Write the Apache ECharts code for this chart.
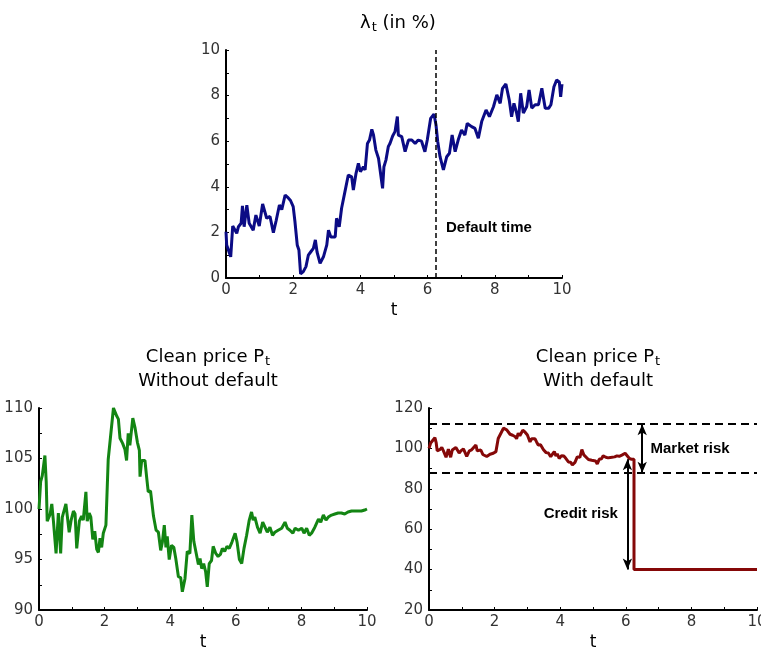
<!DOCTYPE html>
<html>
<head>
<meta charset="utf-8">
<title>Default intensity and clean price</title>
<script src="https://cdn.jsdelivr.net/npm/echarts@6/dist/echarts.min.js"></script>
<style>
  html, body { margin: 0; padding: 0; background: #fff; }
  #chart { width: 761px; height: 652px; }
</style>
</head>
<body>
<div id="chart"></div>
<script>
// Default intensity lambda_t (in %) as [t, value]
const lambdaPath = [
  [0,2.03],[0.02,1.45],[0.14,0.93],[0.2,2.28],[0.32,1.96],[0.37,2.25],[0.45,2.4],[0.49,3.16],
  [0.54,2.25],[0.62,3.19],[0.69,2.4],[0.81,2.1],[0.89,2.76],[0.99,2.28],[1.09,3.25],[1.21,2.62],
  [1.31,2.7],[1.41,1.99],[1.49,2.5],[1.59,3.2],[1.66,3.0],[1.76,3.64],[1.86,3.5],[1.92,3.4],
  [2.0,3.13],[2.05,2.5],[2.12,1.45],[2.17,1.23],[2.22,0.18],[2.3,0.28],[2.38,0.5],[2.45,1.0],
  [2.52,1.14],[2.6,1.3],[2.66,1.67],[2.71,1.14],[2.8,0.64],[2.9,0.93],[3.0,1.45],[3.05,2.1],
  [3.12,1.8],[3.25,1.8],[3.29,2.62],[3.37,2.25],[3.44,3.06],[3.54,3.79],[3.64,4.52],[3.74,4.44],
  [3.79,3.86],[3.87,4.59],[3.94,5.03],[4.0,4.66],[4.09,4.88],[4.14,4.74],[4.21,5.9],[4.27,6.05],
  [4.34,6.52],[4.39,6.27],[4.46,5.61],[4.54,5.24],[4.58,5.31],[4.66,3.93],[4.7,4.88],[4.76,5.17],
  [4.83,5.76],[4.88,5.9],[4.96,6.23],[5.03,6.42],[5.1,7.08],[5.13,6.27],[5.23,6.2],[5.33,5.54],
  [5.43,6.05],[5.53,6.05],[5.63,5.9],[5.72,6.05],[5.82,6.0],[5.92,5.54],[5.99,6.05],[6.09,7.0],
  [6.19,7.19],[6.25,6.71],[6.3,6.0],[6.37,5.32],[6.47,4.74],[6.57,5.32],[6.65,5.47],[6.73,6.27],
  [6.82,5.54],[6.91,6.05],[7.01,6.49],[7.11,6.27],[7.18,6.78],[7.31,6.64],[7.41,6.56],[7.51,6.13],
  [7.61,6.86],[7.74,7.37],[7.84,7.08],[7.96,7.51],[8.06,8.03],[8.16,7.66],[8.23,8.32],[8.33,8.51],
  [8.43,7.8],[8.5,7.07],[8.57,7.66],[8.65,7.23],[8.7,6.86],[8.77,8.1],[8.85,7.23],[8.95,7.52],
  [9.02,8.25],[9.1,7.45],[9.2,7.6],[9.3,7.6],[9.4,8.32],[9.5,7.44],[9.6,7.44],[9.67,7.6],
  [9.76,8.39],[9.84,8.68],[9.92,8.6],[9.96,7.95],[10,8.5]
];

// Clean price P_t without default, as [t, price]
const pricePath = [
  [0,100],[0.05,102.7],[0.1,103.3],[0.18,105.3],[0.22,102.7],[0.25,98.8],[0.34,99.5],[0.39,100.5],
  [0.44,98.8],[0.46,98.7],[0.52,95.6],[0.59,99.6],[0.66,95.6],[0.71,99.2],[0.77,99.2],[0.82,100.5],
  [0.87,100.4],[0.92,97.7],[0.98,98.9],[1.05,99.8],[1.1,99.5],[1.15,96.1],[1.23,98.8],[1.3,99.3],
  [1.35,98.9],[1.43,101.7],[1.47,98.8],[1.53,99.6],[1.58,99.2],[1.64,97.0],[1.7,97.8],[1.76,96.0],
  [1.81,95.7],[1.86,97.1],[1.91,96.2],[1.96,97.6],[2.04,98.4],[2.11,104.9],[2.16,105.0],[2.27,110],
  [2.32,110],[2.37,109.2],[2.42,108.9],[2.47,107],[2.55,106.5],[2.62,105.9],[2.67,104.8],[2.72,107.5],
  [2.77,106.3],[2.86,109],[2.93,108],[3.0,106.6],[3.06,105.8],[3.08,103.2],[3.13,104.8],[3.23,104.8],
  [3.28,103.2],[3.33,101.7],[3.4,101.8],[3.49,99.3],[3.57,97.9],[3.64,97.7],[3.71,95.9],[3.76,96.7],
  [3.82,98.4],[3.87,96.2],[3.91,97.3],[3.97,95.0],[4.04,96.4],[4.11,96.2],[4.17,95.1],[4.25,93.3],
  [4.32,93.2],[4.37,91.8],[4.45,93.1],[4.52,95.8],[4.6,95.6],[4.66,99.4],[4.72,96.8],[4.78,96.7],
  [4.86,94.5],[4.91,95.1],[4.96,94.1],[5.02,94.6],[5.08,93.8],[5.13,92.3],[5.19,94.6],[5.26,94.9],
  [5.31,96.3],[5.39,95.6],[5.46,95.3],[5.53,95.5],[5.59,96.1],[5.66,95.8],[5.73,96.3],[5.8,96.1],
  [5.88,96.7],[5.98,97.6],[6.04,96.7],[6.11,95.0],[6.18,94.6],[6.25,96.1],[6.33,97.4],[6.41,98.9],
  [6.48,99.7],[6.53,98.9],[6.58,99.2],[6.66,98.2],[6.74,97.6],[6.82,98.7],[6.89,98.2],[6.96,97.7],
  [7.04,98.2],[7.12,97.4],[7.19,97.7],[7.29,97.9],[7.4,98.1],[7.5,98.7],[7.57,98.1],[7.65,97.9],
  [7.74,97.6],[7.81,98.1],[7.91,97.9],[8.01,98.1],[8.08,97.6],[8.16,98.1],[8.24,97.4],[8.31,97.6],
  [8.41,98.2],[8.52,99.0],[8.59,98.7],[8.67,99.4],[8.75,98.9],[8.82,99.2],[8.92,99.4],[9.02,99.5],
  [9.12,99.6],[9.22,99.6],[9.32,99.5],[9.42,99.7],[9.53,99.8],[9.63,99.8],[9.73,99.8],[9.83,99.8],
  [9.93,99.9],[10,100]
];

// Default event and risk bands
const defaultTime = 6.25;
const recoveryPrice = 40;
const marketBand = [112, 88];
const marketArrowT = 6.5;
const creditArrowT = 6.05;
const horizon = 10;

// Price path with default: follows the clean price until default, then jumps to recovery
const beforeDefault = pricePath.filter(p => p[0] < defaultTime);
const preDefaultPrice = beforeDefault[beforeDefault.length - 1][1];
const defaultPath = beforeDefault.concat([
  [defaultTime, preDefaultPrice],
  [defaultTime, recoveryPrice],
  [horizon, recoveryPrice]
]);

const FONT = 'DejaVu Sans';
const NOTE_FONT = 'Liberation Sans';
const labelStyle = { color: '#333', fontSize: 15, fontFamily: FONT };
const noteStyle = { color: '#000', fontSize: 15, fontWeight: 'bold', fontFamily: NOTE_FONT };

function xAxisFor(gridIndex) {
  return {
    gridIndex, type: 'value', min: 0, max: 10, interval: 2,
    name: 't', nameLocation: 'middle', nameGap: 24,
    nameTextStyle: { color: '#000', fontSize: 17, fontFamily: FONT },
    axisLine: { lineStyle: { color: '#000', width: 2 } },
    axisTick: { inside: true, length: 3, lineStyle: { color: '#000', width: 1 } },
    minorTick: { show: true, splitNumber: 2, length: 3, lineStyle: { color: '#000', width: 1 } },
    axisLabel: Object.assign({ margin: 5 }, labelStyle),
    splitLine: { show: false }
  };
}
function yAxisFor(gridIndex, min, max, interval) {
  return {
    gridIndex, type: 'value', min, max, interval,
    axisLine: { show: true, lineStyle: { color: '#000', width: 2 } },
    axisTick: { show: true, inside: true, length: 3, lineStyle: { color: '#000', width: 1 } },
    minorTick: { show: true, splitNumber: 2, length: 3, lineStyle: { color: '#000', width: 1 } },
    axisLabel: Object.assign({ margin: 6 }, labelStyle),
    splitLine: { show: false }
  };
}

const titleRich = {
  a: { fontSize: 18, fontFamily: FONT, fontWeight: 'normal', color: '#000', lineHeight: 24 },
  s: { fontSize: 13, fontFamily: FONT, fontWeight: 'normal', color: '#000', lineHeight: 24, padding: [9, 0, 0, 1] }
};
const titleStyle = { fontWeight: 'normal', rich: titleRich };

const chart = echarts.init(document.getElementById('chart'), null, { renderer: 'canvas' });
chart.setOption({
  animation: false,
  backgroundColor: '#fff',
  title: [
    { text: '{a|λ}{s|t}{a| (in %)}', left: 393, top: 6, textAlign: 'center', textStyle: titleStyle },
    { text: '{a|Clean price P}{s|t}\n{a|Without default}', left: 203, top: 340, textAlign: 'center',
      textStyle: titleStyle },
    { text: '{a|Clean price P}{s|t}\n{a|With default}', left: 593, top: 340, textAlign: 'center',
      textStyle: titleStyle }
  ],
  grid: [
    { left: 226, top: 50, width: 336, height: 228, outerBoundsMode: 'none' },
    { left: 39, top: 408, width: 328, height: 202, outerBoundsMode: 'none' },
    { left: 429, top: 408, width: 328, height: 202, outerBoundsMode: 'none' }
  ],
  xAxis: [xAxisFor(0), xAxisFor(1), xAxisFor(2)],
  yAxis: [yAxisFor(0, 0, 10, 2), yAxisFor(1, 90, 110, 5), yAxisFor(2, 20, 120, 20)],
  series: [
    {
      type: 'line', xAxisIndex: 0, yAxisIndex: 0, data: lambdaPath,
      showSymbol: false, lineStyle: { color: '#0b0b85', width: 3 },
      markLine: {
        silent: true, symbol: 'none', label: { show: false },
        lineStyle: { color: '#000', type: [5, 3], width: 1.5 },
        data: [{ xAxis: defaultTime }]
      },
      markPoint: {
        silent: true,
        data: [{
          coord: [6.4, 2.2], symbolSize: 0,
          label: Object.assign({ show: true, position: 'right', formatter: 'Default time' }, noteStyle)
        }]
      }
    },
    {
      type: 'line', xAxisIndex: 1, yAxisIndex: 1, data: pricePath,
      showSymbol: false, lineStyle: { color: '#138513', width: 3 }
    },
    {
      type: 'line', xAxisIndex: 2, yAxisIndex: 2, data: defaultPath,
      showSymbol: false, lineStyle: { color: '#850808', width: 3 },
      markLine: {
        silent: true, symbol: 'none', label: { show: false },
        lineStyle: { color: '#000', type: [8, 5], width: 2 },
        data: [{ yAxis: marketBand[0] }, { yAxis: marketBand[1] }]
      }
    },
    {
      // double-headed arrows for the two risk components
      type: 'line', xAxisIndex: 2, yAxisIndex: 2, data: [],
      markLine: {
        silent: true, symbol: ['arrow', 'arrow'], symbolSize: [7, 11],
        lineStyle: { color: '#000', type: 'solid', width: 2 },
        label: { show: false },
        data: [
          [{ coord: [marketArrowT, marketBand[0]] }, { coord: [marketArrowT, marketBand[1]] }],
          [{ coord: [creditArrowT, preDefaultPrice] }, { coord: [creditArrowT, recoveryPrice] }]
        ]
      },
      markPoint: {
        silent: true,
        data: [
          { coord: [6.6, 100], symbolSize: 0,
            label: Object.assign({ show: true, position: 'right', formatter: 'Market risk' }, noteStyle) },
          { coord: [5.91, 67.5], symbolSize: 0,
            label: Object.assign({ show: true, position: 'left', formatter: 'Credit risk' }, noteStyle) }
        ]
      }
    }
  ]
});
</script>
</body>
</html>
